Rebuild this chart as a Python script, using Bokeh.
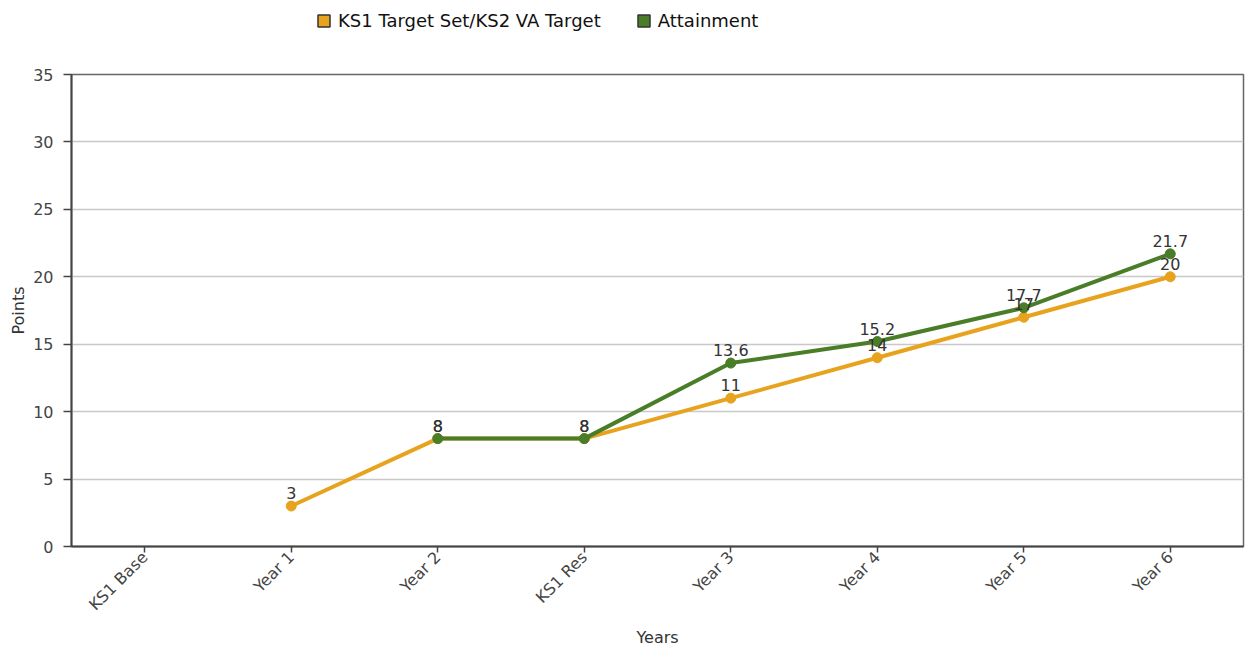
import math
from bokeh.plotting import figure
from bokeh.layouts import column
from bokeh.models import ColumnDataSource, FactorRange, Range1d, FixedTicker, Legend, LegendItem
from bokeh.core.properties import value
from bokeh.embed import file_html
from bokeh.resources import INLINE

categories = ["KS1 Base", "Year 1", "Year 2", "KS1 Res", "Year 3", "Year 4", "Year 5", "Year 6"]
target_cats = ["Year 1", "Year 2", "KS1 Res", "Year 3", "Year 4", "Year 5", "Year 6"]
target_vals = [3, 8, 8, 11, 14, 17, 20]
attain_cats = ["Year 2", "KS1 Res", "Year 3", "Year 4", "Year 5", "Year 6"]
attain_vals = [8, 8, 13.6, 15.2, 17.7, 21.7]
y_ticks = [0, 5, 10, 15, 20, 25, 30, 35]
series_names = ["KS1 Target Set/KS2 VA Target", "Attainment"]

ORANGE = "#E8A31E"
GREEN = "#4A7D28"
FONT = "DejaVu Sans"
NAN = float("nan")
W = 1245

# ---- legend strip (separate small figure above the chart) ----
leg = figure(width=W, height=36, x_range=Range1d(0, 1), y_range=Range1d(0, 1),
             output_backend="svg", toolbar_location=None,
             x_axis_location=None, y_axis_location=None, min_border=0)
leg.outline_line_color = None
leg.background_fill_color = "white"
leg.border_fill_color = "white"
leg.xgrid.visible = False
leg.ygrid.visible = False
q1 = leg.quad(left=[NAN], right=[NAN], top=[NAN], bottom=[NAN],
              fill_color=ORANGE, line_color="#333333", line_width=1.5)
q2 = leg.quad(left=[NAN], right=[NAN], top=[NAN], bottom=[NAN],
              fill_color=GREEN, line_color="#333333", line_width=1.5)
legend = Legend(items=[LegendItem(label=series_names[0], renderers=[q1]),
                       LegendItem(label=series_names[1], renderers=[q2])],
                orientation="horizontal", location=(245, 5),
                glyph_width=15, glyph_height=15, label_standoff=7, spacing=35,
                label_text_font=FONT, label_text_font_size="18px", label_text_color="#111111",
                padding=3, margin=0, border_line_color=None, background_fill_alpha=0)
leg.add_layout(legend, "center")

# ---- main chart ----
p = figure(x_range=FactorRange(*categories), y_range=Range1d(0, 35),
           width=W, height=613, output_backend="svg", toolbar_location=None,
           min_border_left=71, min_border_right=2, min_border_top=38, min_border_bottom=100)
p.background_fill_color = "white"
p.border_fill_color = "white"
p.outline_line_color = "#666666"
p.outline_line_width = 1.5

p.xgrid.visible = False
p.ygrid.grid_line_color = "#c8c8c8"
p.ygrid.grid_line_width = 1.5

p.yaxis.ticker = FixedTicker(ticks=y_ticks)
for ax in (p.xaxis[0], p.yaxis[0]):
    ax.minor_tick_in = 0
    ax.minor_tick_out = 0
    ax.major_tick_in = 0
    ax.axis_line_color = "#444444"
    ax.axis_line_width = 2
    ax.major_tick_line_color = "#444444"
    ax.major_tick_line_width = 1.5
    ax.major_label_text_font = FONT
    ax.major_label_text_font_size = "16px"
    ax.major_label_text_color = "#444444"
    ax.axis_label_text_font = FONT
    ax.axis_label_text_font_size = "16px"
    ax.axis_label_text_font_style = "normal"
    ax.axis_label_text_color = "#333333"

p.yaxis.major_tick_out = 8
p.yaxis.major_label_standoff = 10
p.yaxis.axis_label = "Points"
p.yaxis.axis_label_standoff = 2

p.xaxis.major_tick_out = 6
p.xaxis.major_label_standoff = 2
p.xaxis.major_label_orientation = math.pi / 4
p.xaxis.axis_label = "Years"
p.xaxis.axis_label_standoff = 4

tsrc = ColumnDataSource(dict(x=target_cats, y=target_vals, t=[f"{v:g}" for v in target_vals]))
asrc = ColumnDataSource(dict(x=attain_cats, y=attain_vals, t=[f"{v:g}" for v in attain_vals]))

p.line("x", "y", source=tsrc, line_color=ORANGE, line_width=4)
p.scatter("x", "y", source=tsrc, size=10, fill_color=ORANGE, line_color=ORANGE)
p.line("x", "y", source=asrc, line_color=GREEN, line_width=4)
p.scatter("x", "y", source=asrc, size=10, fill_color=GREEN, line_color=GREEN)

for src in (tsrc, asrc):
    p.text("x", "y", text="t", source=src, text_align="center", text_baseline="alphabetic",
           y_offset=-13, text_font=value(FONT), text_font_size="16px", text_color="#333333")

open("out.html", "w").write(file_html(column(leg, p), INLINE))
